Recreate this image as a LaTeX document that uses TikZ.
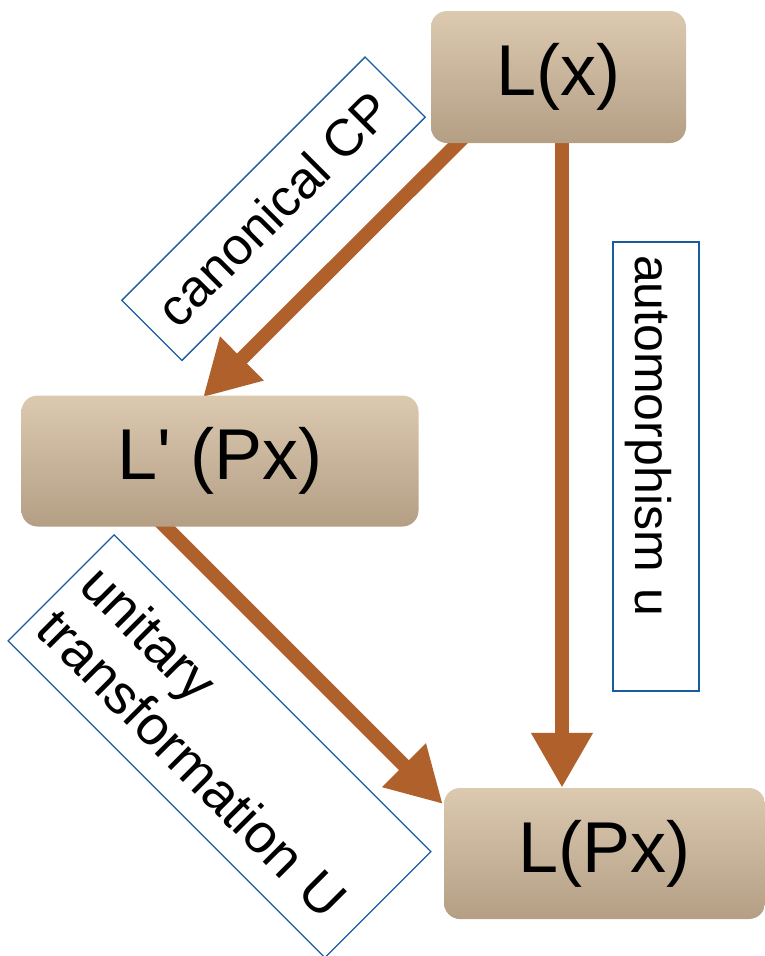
\documentclass[tikz,border=0pt]{standalone}
\usepackage{fontspec}
\setmainfont{Liberation Sans}
\usetikzlibrary{arrows.meta,backgrounds}
\definecolor{arrowc}{RGB}{176,96,43}
\definecolor{boxtop}{RGB}{219,201,176}
\definecolor{boxbot}{RGB}{180,159,133}
\definecolor{lblue}{RGB}{25,92,160}
\tikzset{
  mainbox/.style={rounded corners=16pt, top color=boxtop, bottom color=boxbot, draw=none,
    font=\fontsize{72}{86}\selectfont, inner sep=0pt},
  thickarrow/.style={draw=arrowc, line width=14pt, -{Triangle[length=55pt,width=58pt]}},
  lblbox/.style={draw=lblue, line width=1.3pt, font=\fontsize{52}{60}\selectfont, inner sep=0pt}
}
\begin{document}
\begin{tikzpicture}[x=1pt,y=-1pt]
\useasboundingbox (0,0) rectangle (765,956);
\node[mainbox, minimum width=255pt, minimum height=132pt] (Lx) at (558.5,77) {L(x)};
\node[mainbox, minimum width=397pt, minimum height=131pt] (Lp) at (220,461) {L\textquotesingle{} (Px)};
\node[mainbox, minimum width=321pt, minimum height=131pt] (LPx) at (604.5,853.5) {L(Px)};
\begin{pgfonlayer}{background}
\draw[thickarrow] ([xshift=39pt,yshift=12pt]Lx.south west) -- ([xshift=-17pt,yshift=-2pt]Lp.north);
\draw[thickarrow] ([xshift=3.5pt,yshift=5pt]Lx.south) -- ([xshift=-42.5pt]LPx.north);
\draw[thickarrow] ([xshift=-70pt,yshift=15.5pt]Lp.south) -- ([xshift=-1pt,yshift=49.5pt]LPx.west);
\end{pgfonlayer}
\node[lblbox, rotate=45, minimum width=344pt, minimum height=85pt] (cp) at (273.5,208.75) {canonical CP};
\node[lblbox, rotate=-90, minimum width=449pt, minimum height=86pt, text width=423pt, inner xsep=13pt, align=left, text height=44pt, text depth=2pt, font=\fontsize{50}{60}\selectfont] (au) at (656,466.5) {automorphism u};
\node[lblbox, rotate=-45, minimum width=448pt, minimum height=150pt, text width=424pt, inner xsep=12pt, align=left, font=\fontsize{55}{62}\selectfont] (ut) at (219.5,746.25) {unitary\\transformation U};
\end{tikzpicture}
\end{document}
